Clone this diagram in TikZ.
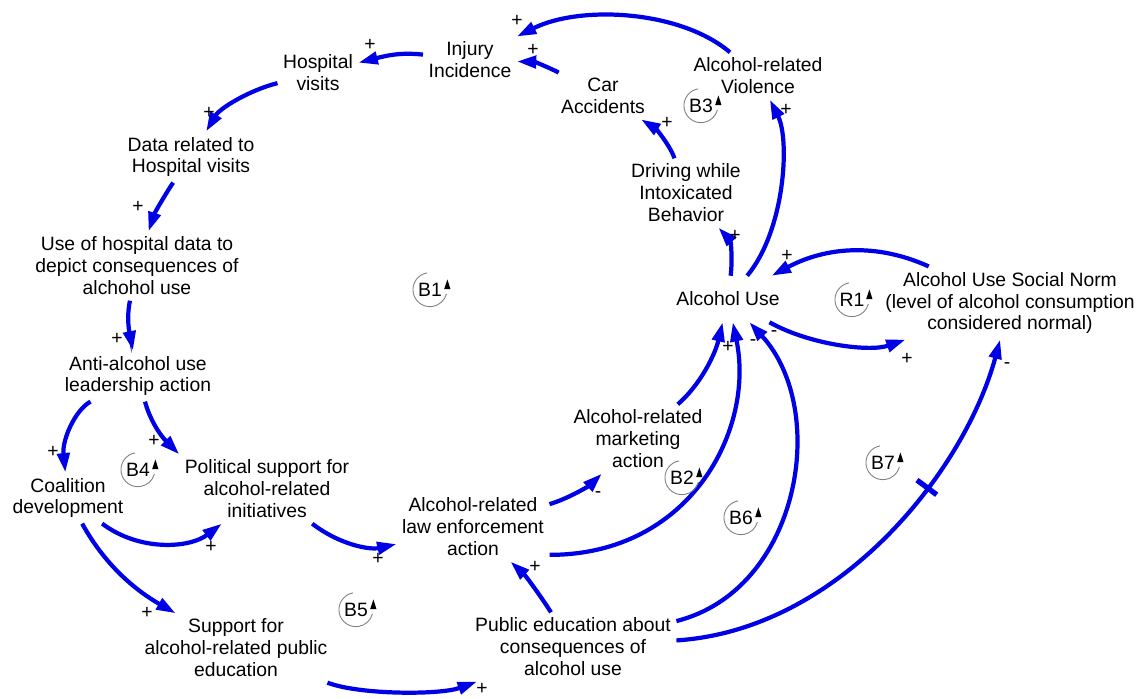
\documentclass[tikz,border=0pt]{standalone}
\usepackage{fontspec}
\setmainfont{Liberation Sans}
\usepackage{xcolor}
\usepackage{tikz}
\usetikzlibrary{arrows.meta}

\definecolor{linkblue}{RGB}{0,0,230}

\tikzset{
  var/.style={align=center, inner sep=3pt, font=\fontsize{11}{12.5}\selectfont},
  link/.style={linkblue, line width=2.4pt, -{Triangle[length=11pt,width=7pt]}},
  sign/.style={inner sep=0pt, font=\fontsize{11}{12}\selectfont},
  loopsign/.style={circle, inner sep=0pt, minimum size=0.68cm, font=\fontsize{11}{12}\selectfont},
  loopline/.style={gray, line width=0.5pt},
  delaymark/.style={fill=linkblue, inner sep=0pt, minimum width=3pt, minimum height=14pt, sloped}
}

\begin{document}
\begin{tikzpicture}[x=0.02cm,y=-0.02cm]
\useasboundingbox (0,0) rectangle (1142,699);
% variables
\node[var] (inj) at (470,60) {Injury\\Incidence};
\node[var] (hosp) at (318,73) {Hospital\\visits};
\node[var] (car) at (603,96) {Car\\Accidents};
\node[var] (viol) at (758,76) {Alcohol-related\\Violence};
\node[var] (drive) at (686,193) {Driving while\\Intoxicated\\Behavior};
\node[var] (data) at (191,157) {Data related to\\Hospital visits};
\node[var] (usedata) at (137,266) {Use of hospital data to\\depict consequences of\\alchohol use};
\node[var, inner ysep=9pt] (use) at (728,299) {Alcohol Use};
\node[var] (norm) at (1010,303) {Alcohol Use Social Norm\\(level of alcohol consumption\\considered normal)};
\node[var] (lead) at (138,376) {Anti-alcohol use\\leadership action};
\node[var] (mkt) at (638,439) {Alcohol-related\\marketing\\action};
\node[var] (pol) at (267,489) {Political support for\\alcohol-related\\initiatives};
\node[var] (coal) at (68,498) {Coalition\\development};
\node[var] (law) at (473,527) {Alcohol-related\\law enforcement\\action};
\node[var] (supp) at (236,648) {Support for\\alcohol-related public\\education};
\node[var] (pub) at (573,647) {Public education about\\consequences of\\alcohol use};

% links
\draw[link] (inj) .. controls (400,52) and (385,56) .. (hosp);
\draw[link] (car) .. controls (550,68) and (535,62) .. (inj);
\draw[link] (viol) .. controls (680,10) and (580,5) .. (inj);
\draw[link] (hosp) .. controls (250,90) and (220,108) .. (data);
\draw[link] (data) .. controls (168,190) and (155,212) .. (usedata);
\draw[link] (usedata) .. controls (126,320) and (130,335) .. (lead);
\draw[link] (lead) .. controls (75,410) and (62,440) .. (coal);
\draw[link] (lead) .. controls (150,420) and (160,435) .. (pol.north west);
\draw[link] (coal) .. controls (140,552) and (190,548) .. (pol);
\draw[link] (coal) .. controls (105,565) and (135,590) .. (supp);
\draw[link] (pol) .. controls (340,545) and (370,550) .. (law);
\draw[link] (supp) .. controls (360,695) and (440,695) .. (pub);
\draw[link] (pub) .. controls (540,595) and (525,575) .. (law);
\draw[link] (law) .. controls (570,498) and (590,485) .. (mkt);
\draw[link] (mkt) .. controls (700,385) and (715,355) .. (use);
\draw[link] (law.-20) .. controls (690,555) and (755,430) .. (use);
\draw[link] (pub) .. controls (800,590) and (830,410) .. (use);
\draw[link] (pub) .. controls (840,630) and (965,470) .. (norm) node[delaymark, pos=0.63] (delay) {};
\draw[link] (use) .. controls (733,255) and (730,240) .. (drive);
\draw[link] (drive) .. controls (670,145) and (655,128) .. (car);
\draw[link] (use) .. controls (785,230) and (790,140) .. (viol);
\draw[link] (norm) .. controls (870,240) and (820,250) .. (use);
\draw[link] (use) .. controls (810,345) and (870,352) .. (norm);

% polarities
\foreach \sx/\sy/\sv [count=\si] in {370/45/+, 533/50/+, 517/21/+, 209/113/+, 138/207/+,
    117/339/+, 53/452/+, 154/441/+, 211/547/+, 147/613/+, 378/559/+, 482/689/+,
    535/567/+, 598/495/-, 728/347/+, 753/343/-, 774/334/-, 1007/366/-, 735/236/+,
    667/123/+, 786/110/+, 787/256/+, 907/359/+}
  \node[sign] (sign\si) at (\sx,\sy) {\sv};

% loops
\foreach \lname/\lx/\ly in {B1/430/290, B2/682/478, B3/701/106, B4/138/470,
    B5/356/610, B6/741/518, B7/883/463, R1/852/300} {
  \node[loopsign] (loop\lname) at (\lx,\ly) {\lname};
  \draw[loopline, x=1cm, y=1cm] (loop\lname.100) arc[start angle=100, end angle=345, radius=0.34];
  \fill (loop\lname.east) ++(-1.8pt,0.5pt) -- ++(3.6pt,0pt) -- ++(-1.8pt,5.5pt) -- cycle;
}
\end{tikzpicture}
\end{document}
